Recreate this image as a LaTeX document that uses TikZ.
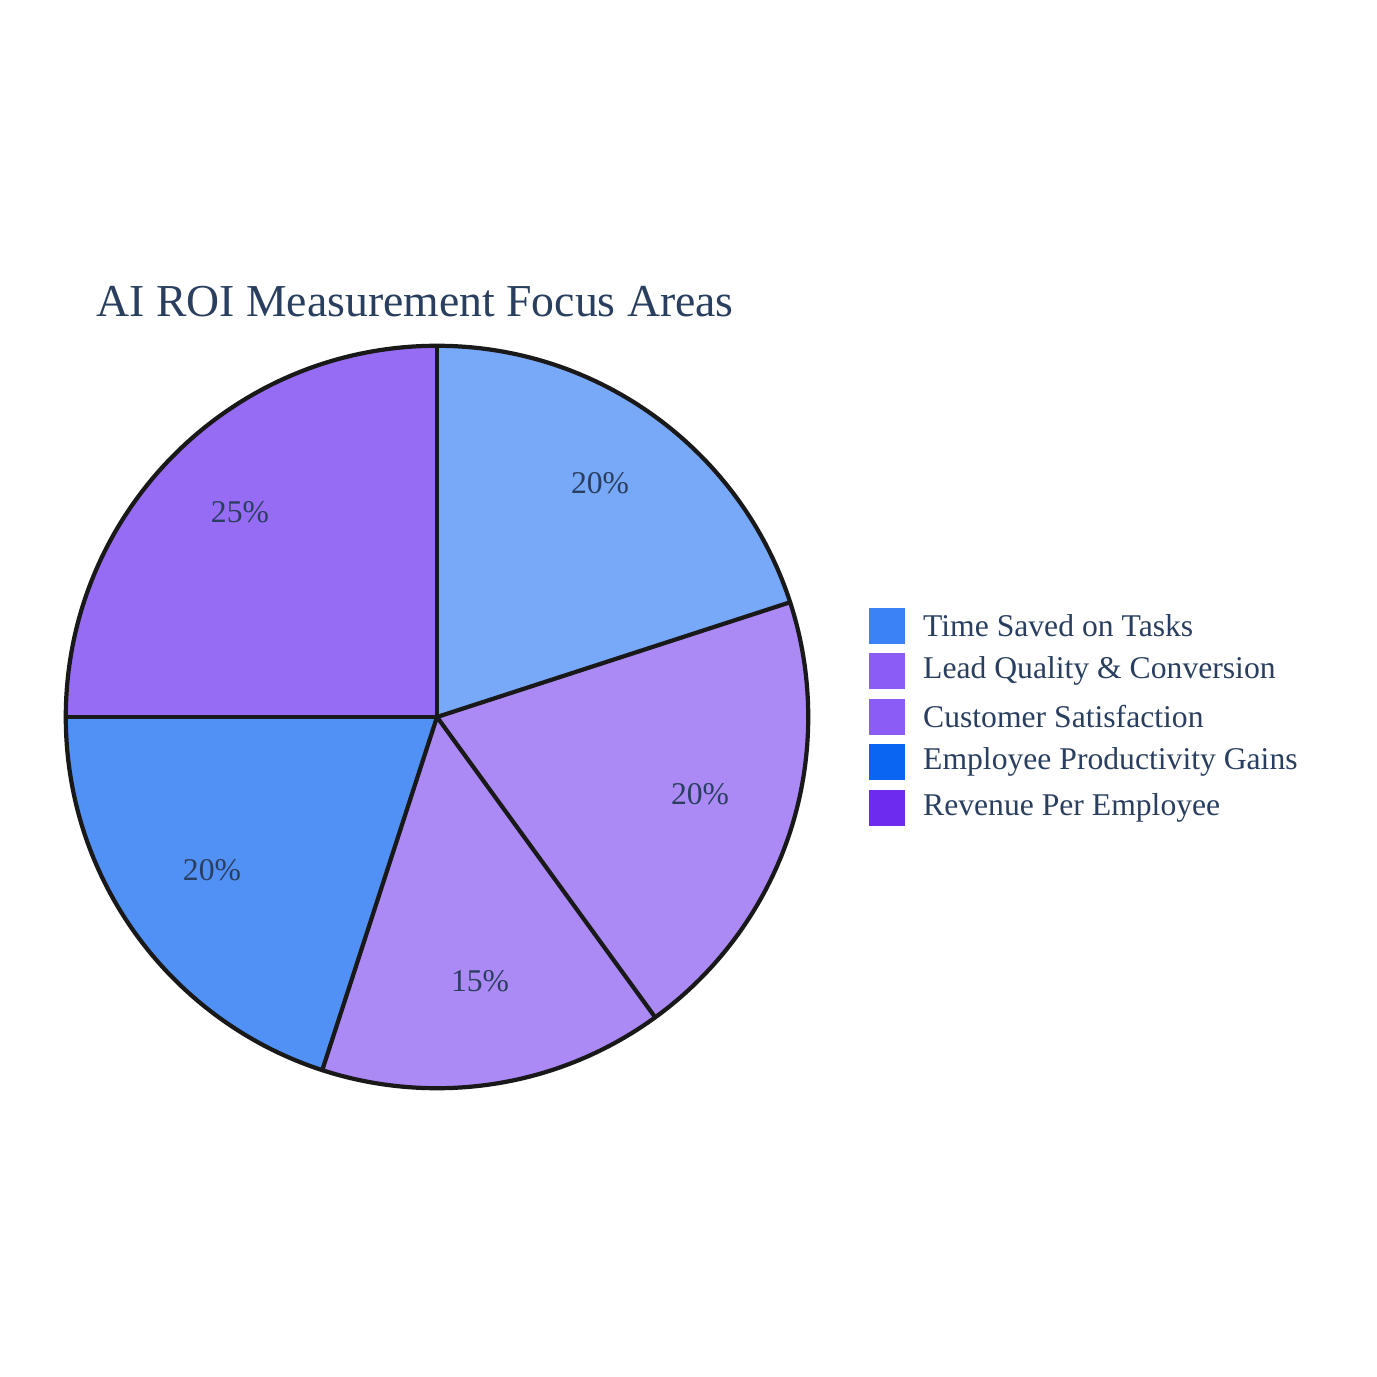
\documentclass[tikz,border=0pt]{standalone}
\usepackage{fontspec}
\setmainfont{Liberation Serif}
\usetikzlibrary{positioning}
\definecolor{txtcol}{HTML}{2A3F5F}
\definecolor{sliceA}{HTML}{78A8F8}
\definecolor{sliceB}{HTML}{AC8AF5}
\definecolor{sliceC}{HTML}{AC8AF5}
\definecolor{sliceD}{HTML}{5191F5}
\definecolor{sliceE}{HTML}{966CF5}
\definecolor{legA}{HTML}{3B82F6}
\definecolor{legB}{HTML}{8B5CF6}
\definecolor{legC}{HTML}{8B5CF6}
\definecolor{legD}{HTML}{0A66F0}
\definecolor{legE}{HTML}{6D2BF0}

\begin{document}
\begin{tikzpicture}[x=0.01cm, y=-0.01cm,
    % slice outline
    slice/.style={draw=black!90, line width=1.2pt},
    % percentage labels
    pct/.style={font=\fontsize{9}{11}\selectfont, text=txtcol},
    % legend swatches and texts
    legendbox/.style={rectangle, minimum size=0.36cm, inner sep=0pt},
    legendtext/.style={font=\fontsize{9}{11}\selectfont, text=txtcol, anchor=west}
]
    \useasboundingbox (0,0) rectangle (1377,1377);

    % --- TITLE ---
    \node[font=\fontsize{13}{15}\selectfont, text=txtcol, anchor=west] (title) at (84,302) {AI ROI Measurement Focus Areas};

    % --- PIE ---
    \coordinate (center) at (437,717);
    \def\rad{3.71cm}
    \fill[sliceA] (center) -- ++(90:\rad) arc[start angle=90, end angle=18, radius=\rad] -- cycle;
    \fill[sliceB] (center) -- ++(18:\rad) arc[start angle=18, end angle=-54, radius=\rad] -- cycle;
    \fill[sliceC] (center) -- ++(-54:\rad) arc[start angle=-54, end angle=-108, radius=\rad] -- cycle;
    \fill[sliceD] (center) -- ++(-108:\rad) arc[start angle=-108, end angle=-180, radius=\rad] -- cycle;
    \fill[sliceE] (center) -- ++(180:\rad) arc[start angle=180, end angle=90, radius=\rad] -- cycle;
    \foreach \ang in {90,18,-54,-108,180}
        \draw[slice] (center) -- ++(\ang:\rad);
    \draw[slice] (center) circle[radius=\rad];

    \node[pct] (p1) at (600,483) {20\%};
    \node[pct] (p2) at (700,794) {20\%};
    \node[pct] (p3) at (480,981) {15\%};
    \node[pct] (p4) at (212,870) {20\%};
    \node[pct] (p5) at (240,512) {25\%};

    % --- LEGEND ---
    \node[legendbox, fill=legA] (l1) at (887,626) {};
    \node[legendtext, right=0.05cm of l1] (t1) {Time Saved on Tasks};
    \node[legendbox, fill=legB, below=0.08cm of l1] (l2) {};
    \node[legendtext, right=0.05cm of l2] (t2) {Lead Quality \& Conversion};
    \node[legendbox, fill=legC, below=0.08cm of l2] (l3) {};
    \node[legendtext, right=0.05cm of l3] (t3) {Customer Satisfaction};
    \node[legendbox, fill=legD, below=0.08cm of l3] (l4) {};
    \node[legendtext, right=0.05cm of l4] (t4) {Employee Productivity Gains};
    \node[legendbox, fill=legE, below=0.08cm of l4] (l5) {};
    \node[legendtext, right=0.05cm of l5] (t5) {Revenue Per Employee};
\end{tikzpicture}
\end{document}
